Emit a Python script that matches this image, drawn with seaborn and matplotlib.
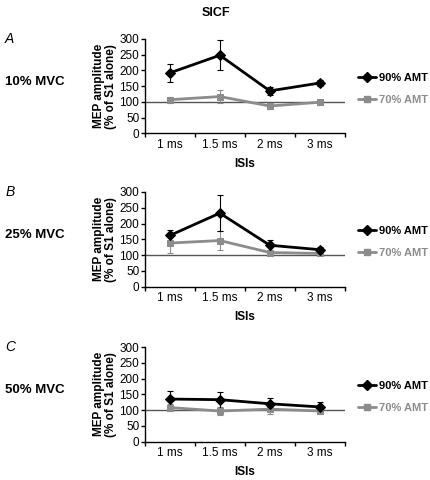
import numpy as np
import pandas as pd
import seaborn as sns
import matplotlib.pyplot as plt
from matplotlib.lines import Line2D

# ------ data ------
isis = ["1 ms", "1.5 ms", "2 ms", "3 ms"]
panels = ["A", "B", "C"]
conditions = ["10% MVC", "25% MVC", "50% MVC"]

amt90_mean = [[192, 248, 135, 160], [162, 233, 131, 117], [135, 133, 120, 110]]
amt90_err = [[28, 47, 12, 8], [17, 58, 17, 8], [27, 25, 17, 15]]
amt70_mean = [[107, 117, 87, 99], [138, 146, 108, 105], [108, 97, 103, 97]]
amt70_err = [[10, 20, 8, 8], [32, 30, 8, 6], [10, 13, 15, 10]]

black = "#000000"
grey = "#8c8c8c"

sns.set_style("white")
plt.rcParams["font.family"] = ["Liberation Sans", "DejaVu Sans"]
for k in ["text.color", "axes.labelcolor", "xtick.color", "ytick.color"]:
    plt.rcParams[k] = "black"

fig = plt.figure(figsize=(4.31, 4.8), dpi=100)
fig.text(0.5, 0.985, "SICF", ha="center", va="top", fontsize=9, fontweight="bold")

tops = [0.919, 0.600, 0.277]
height = 0.197

for i in range(3):
    ax = fig.add_axes([0.336, tops[i] - height, 0.464, height])
    df = pd.DataFrame({
        "isi": isis * 2,
        "val": amt90_mean[i] + amt70_mean[i],
        "err": amt90_err[i] + amt70_err[i],
        "amt": ["90% AMT"] * 4 + ["70% AMT"] * 4,
    })
    ax.axhline(100, color="#555555", lw=1, zorder=1)
    # grey first so black sits on top
    for lab, col, mk, ms in [("70% AMT", grey, "s", 5), ("90% AMT", black, "D", 5.5)]:
        sub = df[df["amt"] == lab]
        x = np.arange(len(isis))
        ax.errorbar(x, sub["val"], yerr=sub["err"], fmt="none", ecolor=col,
                    elinewidth=0.8, capsize=2, capthick=0.8, zorder=2)
        sns.lineplot(x=x, y=sub["val"].values, ax=ax, color=col, lw=2,
                     marker=mk, markersize=ms, markeredgecolor=col, zorder=3)

    ax.set_xlim(-0.5, 3.5)
    ax.set_ylim(0, 300)
    ax.set_yticks(range(0, 301, 50))
    ax.set_xticks([-0.5, 0.5, 1.5, 2.5, 3.5])
    ax.set_xticklabels([])
    ax.set_xticks(range(4), minor=True)
    ax.set_xticklabels(isis, minor=True, fontsize=8.5)
    ax.tick_params(axis="x", which="major", direction="out", length=3, width=1, bottom=True)
    ax.tick_params(axis="x", which="minor", length=0, pad=4)
    ax.tick_params(axis="y", direction="out", length=3, width=1, left=True, labelsize=8.5, pad=1)
    for s in ["top", "right"]:
        ax.spines[s].set_visible(False)
    for s in ["left", "bottom"]:
        ax.spines[s].set_color("black")
        ax.spines[s].set_linewidth(1)

    ax.set_ylabel("MEP amplitude\n(% of S1 alone)", fontsize=8.5, fontweight="bold",
                  labelpad=2, linespacing=1.0)
    ax.set_xlabel("ISIs", fontsize=8.5, fontweight="bold", labelpad=5)

    top_px = tops[i]
    fig.text(0.012, top_px, panels[i], fontsize=10, style="italic", va="center")
    fig.text(0.012, top_px - 0.09, conditions[i], fontsize=9.5, fontweight="bold", va="center")

    handles = [Line2D([], [], color=black, lw=2, marker="D", markersize=5.5),
               Line2D([], [], color=grey, lw=2, marker="s", markersize=5)]
    leg = ax.legend(handles, ["90% AMT", "70% AMT"], loc="center left",
                    bbox_to_anchor=(1.035, 0.47), frameon=False, handlelength=1.6,
                    handletextpad=0.25, labelspacing=1.05, borderaxespad=0.2,
                    prop={"weight": "bold", "size": 8})
    for t, c in zip(leg.get_texts(), [black, grey]):
        t.set_color(c)

fig.savefig("out.png", dpi=100)
